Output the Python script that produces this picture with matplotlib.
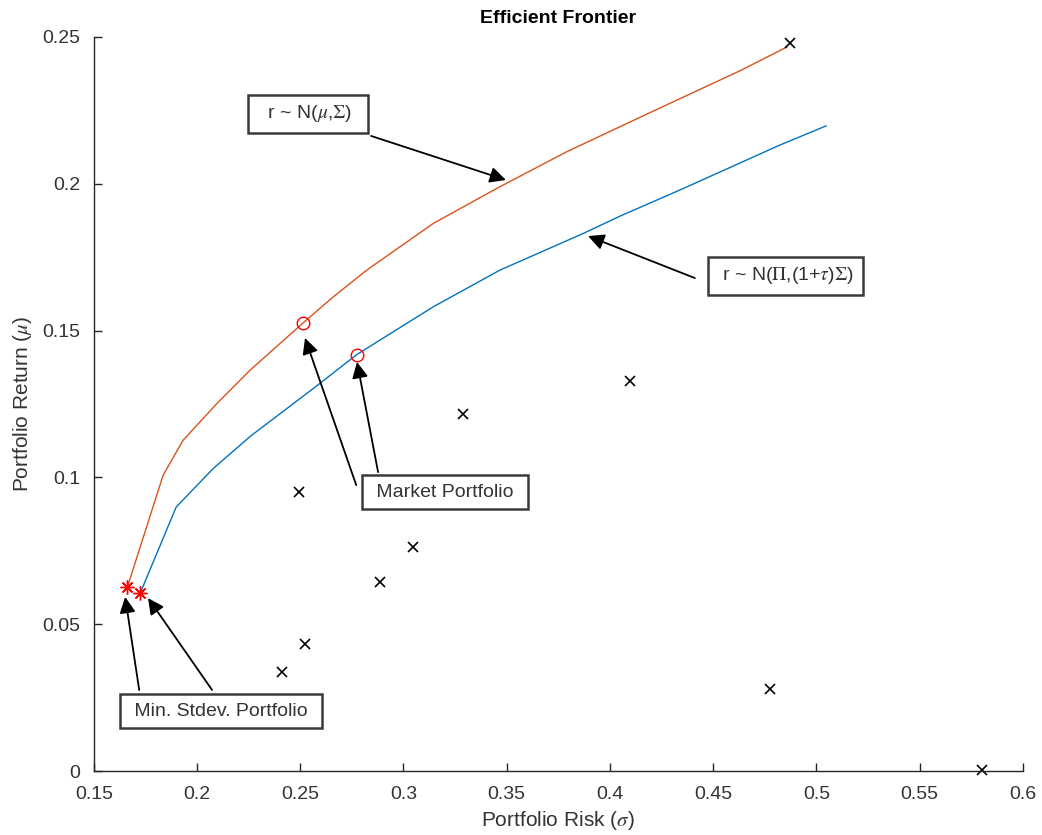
import matplotlib.pyplot as plt

plt.rcParams['font.family'] = ['Liberation Sans', 'DejaVu Sans']
plt.rcParams['mathtext.fontset'] = 'stix'

# frontier under sample estimates (orange) and under the equilibrium prior (blue)
riskSample = [0.1663, 0.1836, 0.1933, 0.2098, 0.2258, 0.2515, 0.2660, 0.2822, 0.3144, 0.3467,
              0.3790, 0.4032, 0.4339, 0.4630, 0.4857]
retSample = [0.0627, 0.1008, 0.1127, 0.1253, 0.1366, 0.1527, 0.1615, 0.1706, 0.1865, 0.1990,
             0.2109, 0.2189, 0.2290, 0.2385, 0.2466]
riskPrior = [0.1725, 0.1899, 0.2078, 0.2258, 0.2580, 0.2773, 0.3144, 0.3467, 0.3871, 0.4049,
             0.4339, 0.4823, 0.5046]
retPrior = [0.0606, 0.0899, 0.1030, 0.1140, 0.1312, 0.1418, 0.1581, 0.1706, 0.1831, 0.1890,
            0.1979, 0.2132, 0.2197]

# individual assets
assetRisk = [0.487, 0.2494, 0.329, 0.4098, 0.3046, 0.2886, 0.2523, 0.2412, 0.4775, 0.5803]
assetRet = [0.248, 0.095, 0.1216, 0.1328, 0.0763, 0.0644, 0.0433, 0.0337, 0.0279, 0.0005]

minRisk = [0.1663, 0.1725]
minRet = [0.0627, 0.0606]
mktRisk = [0.2515, 0.2773]
mktRet = [0.1527, 0.1418]

orange = '#D95319'
blue = '#0072BD'
grey = '#333333'

fig = plt.figure(figsize=(10.42, 8.35), dpi=100)
ax = fig.add_axes([0.09, 0.0766, 0.8917, 0.8791])

ax.plot(riskSample, retSample, color=orange, lw=1.0)
ax.plot(riskPrior, retPrior, color=blue, lw=1.0)
ax.plot(assetRisk, assetRet, 'x', color='black', ms=7, mew=1.2, clip_on=False)
ax.plot(minRisk, minRet, linestyle='none', marker=(8, 2, 0), color='red', ms=10, mew=1.0)
ax.plot(mktRisk, mktRet, 'o', mfc='none', mec='red', ms=9, mew=1.0)

ax.set_xlim(0.15, 0.6)
ax.set_ylim(0, 0.25)
ax.set_xticks([0.15, 0.2, 0.25, 0.3, 0.35, 0.4, 0.45, 0.5, 0.55, 0.6])
ax.set_xticklabels(['0.15', '0.2', '0.25', '0.3', '0.35', '0.4', '0.45', '0.5', '0.55', '0.6'])
ax.set_yticks([0, 0.05, 0.1, 0.15, 0.2, 0.25])
ax.set_yticklabels(['0', '0.05', '0.1', '0.15', '0.2', '0.25'])
for s in ['top', 'right']:
    ax.spines[s].set_visible(False)
for s in ['left', 'bottom']:
    ax.spines[s].set_color('#262626')
    ax.spines[s].set_linewidth(1.0)
ax.tick_params(direction='in', length=6, width=1.0, color='#262626', labelcolor=grey,
               labelsize=14)
ax.tick_params(axis='x', pad=11)
ax.tick_params(axis='y', pad=10)

ax.set_title('Efficient Frontier', fontsize=14, fontweight='bold', pad=10)
ax.set_xlabel(r'Portfolio Risk ($\sigma$)', fontsize=15, color=grey, labelpad=4)
ax.set_ylabel(r'Portfolio Return ($\mu$)', fontsize=15, color=grey, labelpad=6)

box = dict(boxstyle='square,pad=0.45', fc='white', ec='#3a3a3a', lw=1.8)
arrow = dict(arrowstyle='-|>', color='black', lw=1.3, mutation_scale=24, shrinkA=0, shrinkB=0)
fs = 14

ax.text(0.2538, 0.2238, r'  r ~ N($\mu$,$\Sigma$)  ', fontsize=fs, color=grey, ha='center', va='center', bbox=box)
ax.annotate('', xy=(0.3496, 0.2013), xytext=(0.2843, 0.2163), arrowprops=arrow)

ax.text(0.4851, 0.1686, r' r ~ N($\Pi$,(1+$\tau$)$\Sigma$) ', fontsize=fs, color=grey, ha='center', va='center', bbox=box)
ax.annotate('', xy=(0.3894, 0.1822), xytext=(0.4411, 0.1679), arrowprops=arrow)

ax.text(0.3201, 0.095, ' Market Portfolio ', fontsize=fs, color=grey, ha='center', va='center', bbox=box)
ax.annotate('', xy=(0.2523, 0.1475), xytext=(0.2771, 0.0974), arrowprops=arrow)
ax.annotate('', xy=(0.2775, 0.1393), xytext=(0.2877, 0.1018), arrowprops=arrow)

ax.text(0.2117, 0.0204, ' Min. Stdev. Portfolio ', fontsize=fs, color=grey, ha='center', va='center', bbox=box)
ax.annotate('', xy=(0.1652, 0.0593), xytext=(0.172, 0.0276), arrowprops=arrow)
ax.annotate('', xy=(0.1763, 0.0589), xytext=(0.2073, 0.0276), arrowprops=arrow)

fig.savefig('out.png', dpi=100)
